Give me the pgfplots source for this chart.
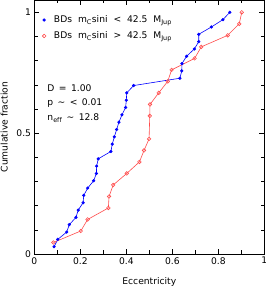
\documentclass[border=0pt]{standalone}
\usepackage{pgfplots}
\pgfplotsset{compat=1.18}
\usepackage{fontspec}
\setmainfont{DejaVu Sans}
\definecolor{myred}{rgb}{1,0.3,0.3}
\definecolor{myblue}{rgb}{0,0,1}
\newcommand{\fs}{\fontsize{9.2}{11}\selectfont}
\begin{document}
\fs
\begin{tikzpicture}
\begin{axis}[
 scale only axis, width=230bp, height=254bp,
 xmin=0, xmax=1, ymin=0, ymax=1.051,
 xtick={0,0.2,0.4,0.6,0.8,1}, minor x tick num=1,
 ytick={0,0.5,1}, minor y tick num=4,
 tick align=inside, major tick length=5bp, minor tick length=3.5bp,
 xticklabels={0,0.2,0.4,0.6,0.8,1},
 yticklabels={0,0.5,1},
 xlabel={Eccentricity}, ylabel={Cumulative fraction},
 xlabel shift=7bp, ylabel shift=2.5bp,
 tick label style={font=\fs},
 label style={font=\fs},
 axis line style={line width=0.5pt},
 every tick/.style={black, line width=0.5pt},
 legend style={at={(0.0343,0.9397)}, anchor=north west, draw=none, fill=none,
   font=\fs, row sep=7bp, column sep=8bp, inner sep=0pt,
   nodes={inner sep=0pt, text height=7bp, text depth=2bp}},
 legend cell align=left,
 legend image code/.code={\draw[#1] plot coordinates {(0cm,0cm)};},
]
\addplot[myblue, line width=0.6pt, mark=*, mark size=1.3bp] coordinates {
(0.086,0.0303)(0.102,0.0606)(0.141,0.0909)(0.152,0.1212)(0.181,0.1515)
(0.191,0.1818)(0.212,0.2121)(0.215,0.2424)(0.232,0.2727)(0.258,0.3030)
(0.270,0.3333)(0.271,0.3636)(0.278,0.3939)(0.333,0.4242)(0.339,0.4545)
(0.348,0.4848)(0.358,0.5152)(0.368,0.5455)(0.381,0.5758)(0.397,0.6061)
(0.400,0.6364)(0.402,0.6667)(0.432,0.6970)(0.633,0.7273)(0.641,0.7576)
(0.642,0.7879)(0.662,0.8182)(0.696,0.8485)(0.715,0.8788)(0.715,0.9091)
(0.770,0.9394)(0.820,0.9697)(0.850,1.0000)};
\addlegendentry{BDs\hspace{3bp} m$_\mathrm{C}$sini\hspace{3bp} <\hspace{3bp} 42.5\hspace{3bp} M$_\mathrm{Jup}$}
\addplot[myred, line width=0.6pt, mark=o, mark size=1.8bp] coordinates {
(0.083,0.0476)(0.202,0.0952)(0.232,0.1429)(0.322,0.1905)(0.325,0.2381)
(0.343,0.2857)(0.402,0.3333)(0.457,0.3810)(0.477,0.4286)(0.499,0.4762)
(0.502,0.5714)(0.503,0.6190)(0.541,0.6667)(0.580,0.7143)(0.597,0.7619)
(0.697,0.8095)(0.726,0.8571)(0.841,0.9048)(0.891,0.9524)(0.902,1.0000)};
\addlegendentry{BDs\hspace{3bp} m$_\mathrm{C}$sini\hspace{3bp} >\hspace{3bp} 42.5\hspace{3bp} M$_\mathrm{Jup}$}
\node[anchor=base west, inner sep=0pt] at (axis cs:0.0565,0.6715) {D\hspace{1.5bp} =\hspace{1.5bp} 1.00};
\node[anchor=base west, inner sep=0pt] at (axis cs:0.0565,0.6136) {p\hspace{1.5bp} \textasciitilde{}\hspace{1.5bp} <\hspace{1.5bp} 0.01};
\node[anchor=base west, inner sep=0pt] at (axis cs:0.0565,0.5515) {n$_\mathrm{eff}$\hspace{1.5bp} \textasciitilde{}\hspace{1.5bp} 12.8};
\end{axis}
\path (current axis.south west) ++(-34.3bp,-36bp) coordinate (bbA);
\path (current axis.north east) ++(1.7bp,0bp) coordinate (bbB);
\pgfresetboundingbox
\path[use as bounding box] (bbA) rectangle (bbB);
\end{tikzpicture}
\end{document}
